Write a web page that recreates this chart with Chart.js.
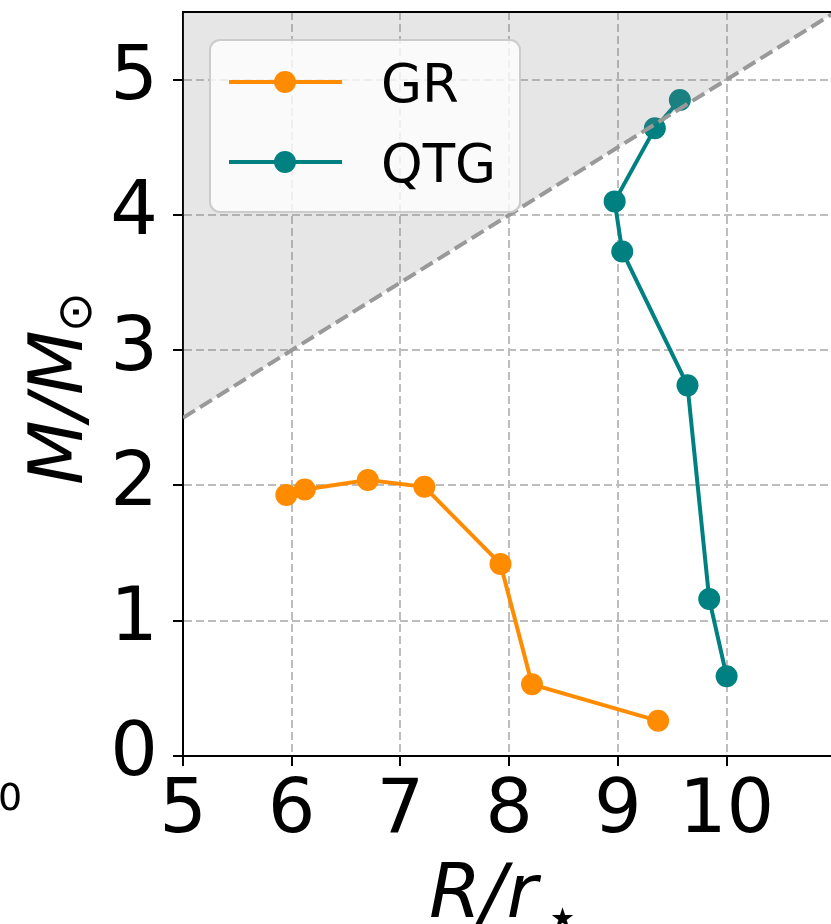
<!DOCTYPE html>
<html>
<head>
<meta charset="utf-8">
<script src="https://cdn.jsdelivr.net/npm/chart.js@4.4.0/dist/chart.umd.min.js"></script>
<style>
  html, body { margin: 0; padding: 0; background: #fff; overflow: hidden; }
  #wrap { width: 831px; height: 924px; }
</style>
</head>
<body>
<div id="wrap"><canvas id="mr-chart" width="831" height="924"></canvas></div>
<script>
// radius (R/r*) and mass (M/Msun)
const grRadius  = [5.95, 6.12, 6.70, 7.22, 7.92, 8.21, 9.37];
const grMass    = [1.93, 1.97, 2.04, 1.99, 1.42, 0.53, 0.26];
const qtgRadius = [10.00, 9.84, 9.64, 9.04, 8.97, 9.34, 9.57];
const qtgMass   = [0.59, 1.16, 2.74, 3.73, 4.10, 4.64, 4.85];
// causality-like limit M = R/2, shaded above
const limitRadius = [5, 11];
const limitMass   = [2.5, 5.5];

const xTicks = [5, 6, 7, 8, 9, 10];
const yTicks = [0, 1, 2, 3, 4, 5];
const seriesLabels = ['GR', 'QTG'];
const seriesColors = ['#ff8c00', '#008080'];

const FONT = '"DejaVu Sans"';
Chart.defaults.font.family = FONT;
Chart.defaults.color = '#000';

const toPoints = (xs, ys) => xs.map((x, i) => ({ x: x, y: ys[i] }));

// chart.js reserves room for half of the end labels; we don't want that here
const noEdgePadding = (s) => {
    s.paddingTop = 0;
    s.paddingBottom = 0;
    s.paddingLeft = 0;
    s.paddingRight = 0;
};

const extrasPlugin = {
    id: 'extras',
    afterDatasetsDraw(chart) {
        const { ctx, chartArea: a } = chart;
        ctx.save();
        // top spine
        ctx.strokeStyle = '#000';
        ctx.lineWidth = 2;
        ctx.beginPath();
        ctx.moveTo(a.left - 1, a.top);
        ctx.lineTo(a.right, a.top);
        ctx.stroke();

        // legend box
        ctx.beginPath();
        ctx.roundRect(210, 40, 310, 172, 10);
        ctx.fillStyle = 'rgba(255,255,255,0.8)';
        ctx.fill();
        ctx.strokeStyle = '#cccccc';
        ctx.lineWidth = 2;
        ctx.stroke();

        const rows = [82, 162];
        seriesLabels.forEach((lab, i) => {
            const y = rows[i];
            ctx.strokeStyle = seriesColors[i];
            ctx.lineWidth = 4;
            ctx.beginPath();
            ctx.moveTo(229, y);
            ctx.lineTo(342, y);
            ctx.stroke();
            ctx.fillStyle = seriesColors[i];
            ctx.beginPath();
            ctx.arc(285, y, 11, 0, Math.PI * 2);
            ctx.fill();
            ctx.fillStyle = '#000';
            ctx.font = '53px ' + FONT;
            ctx.textAlign = 'left';
            ctx.textBaseline = 'alphabetic';
            ctx.fillText(lab, 381, y + 19.5);
        });
        ctx.restore();
    },
    afterDraw(chart) {
        const { ctx } = chart;
        ctx.save();
        ctx.fillStyle = '#000';
        ctx.textAlign = 'left';
        ctx.textBaseline = 'alphabetic';

        // x title R/r_star
        ctx.font = 'italic 75px ' + FONT;
        ctx.fillText('R/r', 429, 917);
        ctx.font = '56px ' + FONT;
        ctx.fillText('\u22C6', 545, 936);

        // y title M/M_sun
        ctx.translate(82, 485);
        ctx.rotate(-Math.PI / 2);
        ctx.font = 'italic 75px ' + FONT;
        ctx.fillText('M/M', 0, 0);
        const w = ctx.measureText('M/M').width;
        ctx.font = '48px ' + FONT;
        ctx.fillText('\u2299', w - 2, 9);
        ctx.restore();

        // cut-off label from neighbouring panel
        ctx.save();
        ctx.font = '38px ' + FONT;
        ctx.fillStyle = '#000';
        ctx.textBaseline = 'alphabetic';
        ctx.fillText('0', -2, 810);
        ctx.restore();
    }
};

const ctx = document.getElementById('mr-chart').getContext('2d');
new Chart(ctx, {
    type: 'scatter',
    data: {
        datasets: [
            {
                label: 'limit',
                data: toPoints(limitRadius, limitMass),
                showLine: true,
                borderColor: '#999999',
                borderWidth: 4,
                borderDash: [14, 6],
                backgroundColor: 'rgba(128,128,128,0.2)',
                fill: 'end',
                pointRadius: 0,
                order: 0
            },
            {
                label: seriesLabels[0],
                data: toPoints(grRadius, grMass),
                showLine: true,
                borderColor: seriesColors[0],
                backgroundColor: seriesColors[0],
                borderWidth: 4,
                pointRadius: 11,
                pointBorderWidth: 0,
                order: 1
            },
            {
                label: seriesLabels[1],
                data: toPoints(qtgRadius, qtgMass),
                showLine: true,
                borderColor: seriesColors[1],
                backgroundColor: seriesColors[1],
                borderWidth: 4,
                pointRadius: 11,
                pointBorderWidth: 0,
                order: 1
            }
        ]
    },
    options: {
        responsive: false,
        devicePixelRatio: 1,
        animation: false,
        layout: { autoPadding: false, padding: { top: 12, left: 0, right: 0, bottom: 0 } },
        plugins: {
            legend: { display: false },
            tooltip: { enabled: false }
        },
        scales: {
            x: {
                type: 'linear',
                min: 5,
                max: 10.96,
                afterBuildTicks: (s) => { s.ticks = xTicks.map(v => ({ value: v })); },
                afterFit: (s) => { s.height = 168; noEdgePadding(s); },
                ticks: { font: { size: 75 }, padding: 2, maxRotation: 0, autoSkip: false },
                grid: {
                    color: '#bdbdbd',
                    lineWidth: 2,
                    tickLength: 10,
                    tickColor: '#000',
                    tickWidth: 2,
                    tickBorderDash: []
                },
                border: { display: true, color: '#000', width: 2, dash: [8, 4] }
            },
            y: {
                type: 'linear',
                min: 0,
                max: 5.5,
                afterBuildTicks: (s) => { s.ticks = yTicks.map(v => ({ value: v })); },
                afterFit: (s) => { s.width = 183; noEdgePadding(s); },
                ticks: { font: { size: 75 }, padding: 15, autoSkip: false },
                grid: {
                    color: '#bdbdbd',
                    lineWidth: 2,
                    tickLength: 10,
                    tickColor: '#000',
                    tickWidth: 2,
                    tickBorderDash: []
                },
                border: { display: true, color: '#000', width: 2, dash: [8, 4] }
            }
        }
    },
    plugins: [extrasPlugin]
});
</script>
</body>
</html>
